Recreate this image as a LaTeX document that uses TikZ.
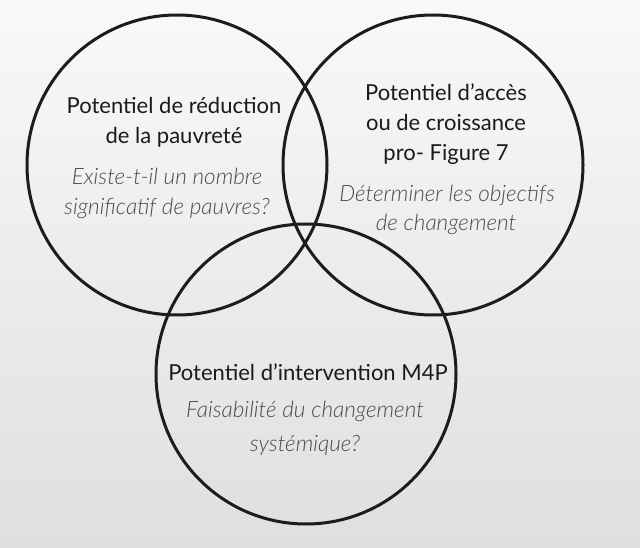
\documentclass[tikz,border=0pt]{standalone}
\usepackage{fontspec}
\setmainfont{Lato}[ItalicFont={Lato Light Italic}]
\definecolor{bgtop}{HTML}{F9F9F9}
\definecolor{bgbot}{HTML}{DEDFE1}
\definecolor{ring}{HTML}{1E1B1C}
\definecolor{titlec}{HTML}{1A1A1A}
\definecolor{subc}{HTML}{4A4A4A}
\begin{document}
\begin{tikzpicture}[x=1pt,y=-1pt,
  ring/.style={draw=ring, line width=3pt, circle, minimum size=300pt, inner sep=0pt},
  ttl/.style={anchor=base, text=titlec, inner sep=0pt, font=\fontsize{22}{27}\selectfont},
  sub/.style={anchor=base, text=subc, inner sep=0pt, font=\fontsize{22.5}{27}\selectfont\itshape}]
\useasboundingbox (0,0) rectangle (640,548);
\shade[top color=bgtop, bottom color=bgbot] (0,0) rectangle (640,548);
\node[ring] (left) at (177,165) {};
\node[ring] (right) at (433,165) {};
\node[ring] (bottom) at (306,374) {};
% left
\node[ttl] (l1) at (174,114) {Potentiel de réduction};
\node[ttl] (l2) at (174,144) {de la pauvreté};
\node[sub] (l3) at (167,185) {Existe-t-il un nombre};
\node[sub] (l4) at (167,215) {significatif de pauvres?};
% right
\node[ttl] (r1) at (446,101) {Potentiel d’accès};
\node[ttl] (r2) at (446,131) {ou de croissance};
\node[ttl] (r3) at (446,161) {pro- Figure 7};
\node[sub] (r4) at (447,202) {Déterminer les objectifs};
\node[sub] (r5) at (446,231) {de changement};
% bottom
\node[ttl] (b1) at (308,380) {Potentiel d’intervention M4P};
\node[sub] (b2) at (305,417) {Faisabilité du changement};
\node[sub] (b3) at (305,451) {systémique?};
\end{tikzpicture}
\end{document}
